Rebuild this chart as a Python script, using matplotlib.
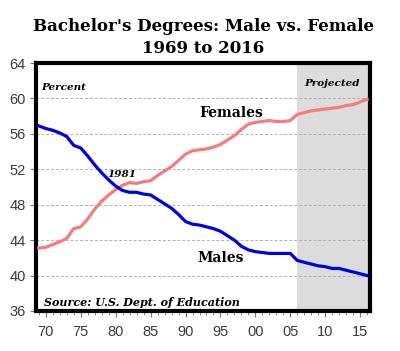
import matplotlib
matplotlib.use("Agg")
from matplotlib import pyplot as plt
from matplotlib.ticker import MultipleLocator, FixedLocator
import numpy as np

# share of bachelor's degrees, percent
years = list(range(1969, 2017))
females = [43.1, 43.2, 43.5, 43.8, 44.2, 45.3, 45.5, 46.4, 47.5, 48.4,
           49.1, 49.7, 50.2, 50.5, 50.4, 50.6, 50.7, 51.3, 51.8, 52.3,
           53.0, 53.7, 54.1, 54.2, 54.3, 54.5, 54.8, 55.3, 55.8, 56.5,
           57.1, 57.3, 57.4, 57.5, 57.4, 57.4, 57.5, 58.2, 58.4, 58.6,
           58.7, 58.8, 58.9, 59.0, 59.2, 59.3, 59.6, 59.9]
males = [56.9, 56.6, 56.4, 56.1, 55.7, 54.7, 54.4, 53.5, 52.5, 51.6,
         50.8, 50.1, 49.6, 49.4, 49.4, 49.2, 49.1, 48.6, 48.1, 47.6,
         46.9, 46.1, 45.8, 45.7, 45.5, 45.3, 45.0, 44.5, 44.0, 43.3,
         42.9, 42.7, 42.6, 42.5, 42.5, 42.5, 42.5, 41.7, 41.5, 41.3,
         41.1, 41.0, 40.8, 40.8, 40.6, 40.4, 40.2, 40.0]
proj_start = 2006
xtick_years = [1970, 1975, 1980, 1985, 1990, 1995, 2000, 2005, 2010, 2015]
xtick_labels = ["70", "75", "80", "85", "90", "95", "00", "05", "10", "15"]
yticks = [36, 40, 44, 48, 52, 56, 60, 64]

serif = "DejaVu Serif"

fig = plt.figure(figsize=(4.0, 3.51), dpi=100)
ax = fig.add_axes([0.09, 0.114, 0.835, 0.7065])

ax.axvspan(proj_start, 2016.4, color="#dcdcdc", zorder=0, lw=0)
for y in yticks[1:-1]:
    ax.axhline(y, color="#b0b0b0", lw=0.7, ls=(0, (3, 2)), zorder=1)

ax.plot(years, females, color="#f77b7b", lw=2.3, zorder=3)
ax.plot(years, males, color="#0000e6", lw=2.3, zorder=3)

ax.set_xlim(1968.6, 2016.4)
ax.set_ylim(36, 64)
ax.yaxis.set_major_locator(FixedLocator(yticks))
ax.xaxis.set_major_locator(FixedLocator(xtick_years))
ax.xaxis.set_minor_locator(MultipleLocator(1))
ax.set_xticklabels(xtick_labels)

for s in ax.spines.values():
    s.set_linewidth(3)
    s.set_color("black")

for lbl in ax.get_xticklabels() + ax.get_yticklabels():
    lbl.set_family("Liberation Sans")
ax.tick_params(axis="both", which="major", labelsize=10.5, labelcolor="#3a3a3a",
               color="#777777", width=0.8, length=4, direction="out")
ax.tick_params(axis="x", which="minor", color="#777777", width=0.6, length=3)
ax.tick_params(axis="x", pad=6)

ax.text(1969.3, 61.2, "Percent", family=serif, fontsize=7.5, weight="bold",
        style="italic", va="center")
ax.text(2011.0, 61.7, "Projected", family=serif, fontsize=7.5, weight="bold",
        style="italic", ha="center", va="center")
ax.text(1996.5, 58.3, "Females", family=serif, fontsize=10, weight="bold",
        ha="center", va="center")
ax.text(1995.0, 42.0, "Males", family=serif, fontsize=10, weight="bold",
        ha="center", va="center")
ax.text(1980.9, 51.4, "1981", family=serif, fontsize=7.5, weight="bold",
        style="italic", ha="center", va="center")
ax.text(1969.8, 37.0, "Source: U.S. Dept. of Education", family=serif,
        fontsize=8, weight="bold", style="italic", va="center")

fig.text(0.508, 0.925, "Bachelor's Degrees: Male vs. Female", family=serif,
         fontsize=12, weight="bold", ha="center", va="center")
fig.text(0.508, 0.862, "1969 to 2016", family=serif,
         fontsize=12, weight="bold", ha="center", va="center")

fig.savefig("out.png", dpi=100)
